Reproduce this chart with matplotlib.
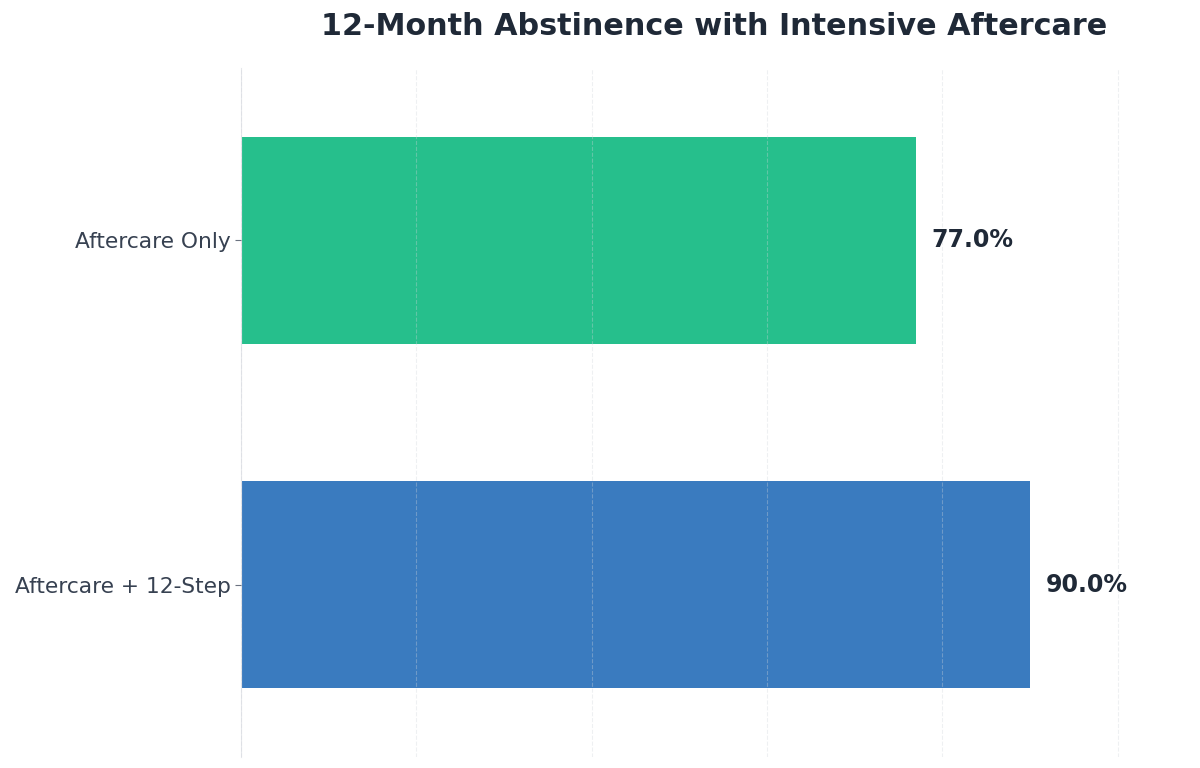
import matplotlib
matplotlib.use("Agg")
import matplotlib.pyplot as plt

plt.rcParams['font.family'] = ['DejaVu Sans']

# Dados
grupos = ['Aftercare Only', 'Aftercare + 12-Step']
abstinencia = [77.0, 90.0]
cores = ['#26BF8C', '#3A7BBF']

texto = '#1F2937'

fig = plt.figure(figsize=(12, 7.68), dpi=100)
ax = fig.add_axes([0.2008, 0.0143, 0.789, 0.8972])

barras = ax.barh(grupos, abstinencia, height=0.6, color=cores, zorder=2)

for barra, valor in zip(barras, abstinencia):
    ax.text(barra.get_width() + 1.8, barra.get_y() + barra.get_height() / 2,
            f'{valor:.1f}%', va='center', ha='left', fontsize=17,
            fontweight='bold', color=texto)

ax.set_xlim(0, 108)
ax.set_ylim(1.5, -0.5)
ax.set_xticks([0, 20, 40, 60, 80, 100])
ax.set_xticklabels([])
ax.tick_params(axis='x', length=0)
ax.tick_params(axis='y', labelsize=15.7, labelcolor='#374151', color='#6B7280', length=4)
ax.grid(axis='x', linestyle='--', color='#D1D5DB', linewidth=0.8, alpha=0.35, zorder=3)
ax.set_axisbelow(False)

for lado in ['top', 'right', 'bottom']:
    ax.spines[lado].set_visible(False)
ax.spines['left'].set_color('#E5E7EB')

fig.suptitle('12-Month Abstinence with Intensive Aftercare', x=0.5955, y=0.985,
             fontsize=21.8, fontweight='bold', color=texto, va='top')

fig.savefig('out.png', dpi=100)
